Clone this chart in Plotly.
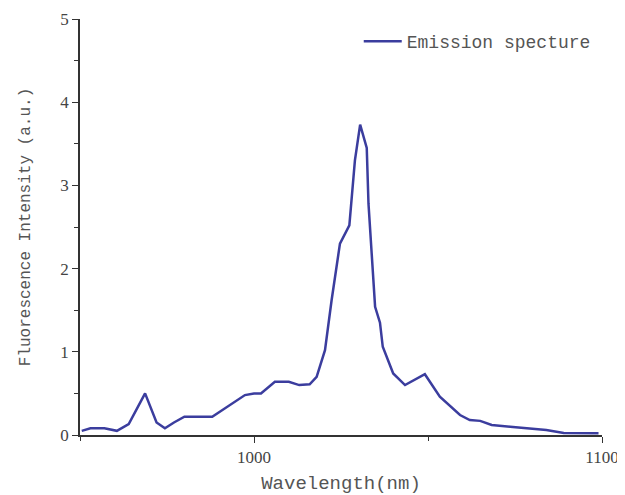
import plotly.graph_objects as go

wavelength = [950.5, 953, 957, 960.6, 964, 968.7, 972, 974.4, 977, 980, 988, 993, 997.4,
              1000, 1002, 1006, 1010, 1013, 1016, 1018, 1020.4, 1022.3, 1024.7, 1027.4,
              1029, 1030.5, 1032.4, 1032.9, 1034.8, 1036.2, 1037, 1040, 1043.4, 1049.1,
              1053.4, 1059.2, 1062, 1065, 1068.3, 1073.6, 1079, 1084, 1089, 1099]
intensity = [0.05, 0.08, 0.08, 0.05, 0.13, 0.50, 0.15, 0.08, 0.15, 0.22, 0.22, 0.36, 0.48,
             0.50, 0.50, 0.64, 0.64, 0.60, 0.61, 0.70, 1.02, 1.62, 2.30, 2.52,
             3.30, 3.73, 3.45, 2.78, 1.54, 1.35, 1.06, 0.74, 0.60, 0.73,
             0.46, 0.24, 0.18, 0.17, 0.12, 0.10, 0.08, 0.06, 0.025, 0.02]

fig = go.Figure()
fig.add_trace(go.Scatter(x=wavelength, y=intensity, mode="lines",
                         name="Emission specture",
                         line=dict(color="#3b3d9e", width=2.5)))

tickfont = dict(family="Liberation Serif", size=17, color="#444444")

# page body has an 8px margin, so the figure is sized to fit the window
fig.update_layout(
    width=617, height=487,
    margin=dict(l=72, r=23, t=11, b=60, autoexpand=False),
    paper_bgcolor="white", plot_bgcolor="white",
    showlegend=True,
    legend=dict(x=0.534, y=0.99, xanchor="left", yanchor="top",
                itemwidth=38,
                font=dict(family="Liberation Mono", size=18, color="#555555"),
                bgcolor="rgba(0,0,0,0)"),
    xaxis=dict(range=[950, 1100], tick0=1000, dtick=100,
               showline=True, linecolor="#333333", linewidth=1.5,
               ticks="outside", ticklen=6, tickcolor="#333333",
               minor=dict(dtick=50, ticks="outside", ticklen=4, tickcolor="#333333"),
               showgrid=False, zeroline=False, tickfont=tickfont,
               title=dict(text="Wavelength(nm)",
                          font=dict(family="Liberation Mono", size=19, color="#555555"),
                          standoff=12)),
    yaxis=dict(range=[0, 5], dtick=1,
               showline=True, linecolor="#333333", linewidth=1.5,
               ticks="outside", ticklen=6, tickcolor="#333333",
               minor=dict(dtick=0.5, ticks="outside", ticklen=4, tickcolor="#333333"),
               showgrid=False, zeroline=False, tickfont=tickfont,
               title=dict(text="Fluorescence Intensity (a.u.)",
                          font=dict(family="Liberation Mono", size=16, color="#555555"),
                          standoff=26)),
)

fig.write_html("out.html")
